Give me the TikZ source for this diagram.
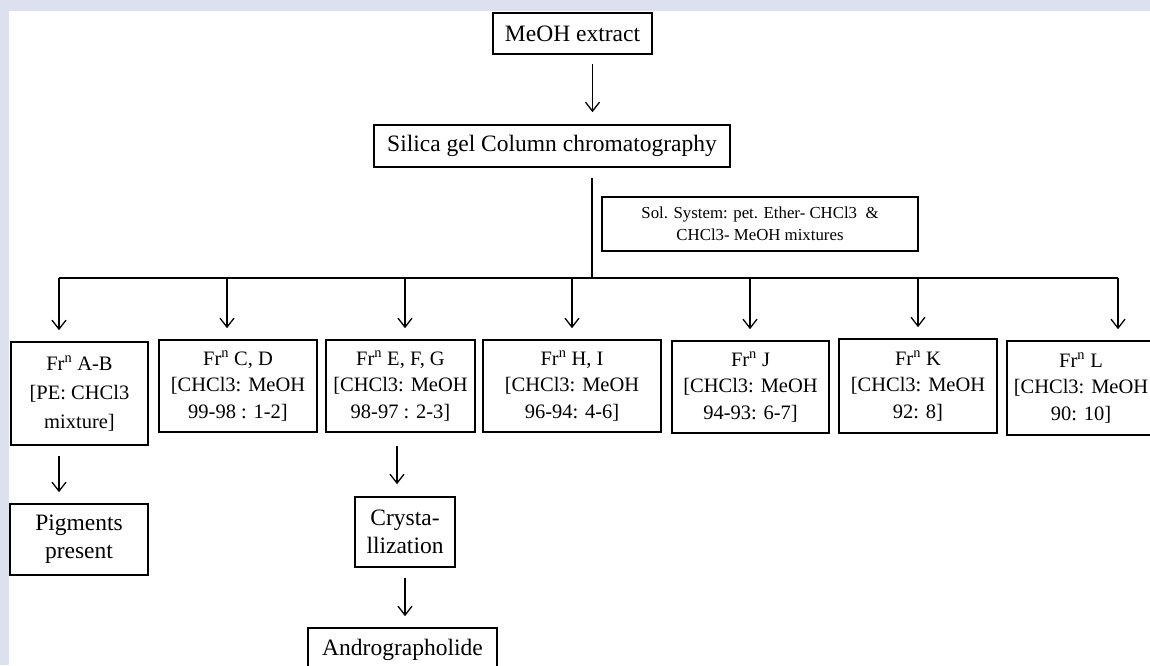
\documentclass[tikz,border=0pt]{standalone}
\usepackage{fontspec}
\setmainfont{Liberation Serif}
\usetikzlibrary{arrows.meta}
\definecolor{PageBack}{HTML}{DDE0EF}

\begin{document}
\begin{tikzpicture}[
          % Environment Config
          x=1pt, y=-1pt,
          Box/.style={% Style for the framed steps
            draw,
            line width=1.6pt,
            align=center,
            inner sep=0pt,
            font=\fontsize{23.5}{28}\selectfont
          },
          FrBox/.style={% Style for the fraction boxes
            Box,
            font=\fontsize{20.5}{26.5}\selectfont
          },
          MyArrow/.style={% Style for the flow arrows
            -{Straight Barb[length=9pt,width=14pt]},
            line width=1.3pt
          },
          Wire/.style={% Style for the plain lines
            line width=1.3pt
          }
        ]

        % Page background
        \useasboundingbox[fill=PageBack] (0,0) rectangle (1150,665);
        \fill[white] (9,11) rectangle (1150,665);

        % Main column
        \node[Box, minimum width=159pt, minimum height=41pt] (MeOH) at (572.5,33.5) {MeOH extract};
        \node[Box, minimum width=356pt, minimum height=42pt] (Silica) at (552,146) {Silica gel Column chromatography};
        \node[Box, minimum width=316pt, minimum height=54pt,
              font=\fontsize{16.8}{22}\selectfont] (Sol) at (760,224)
              {Sol. System: pet. Ether- CHCl3 \ \&\\CHCl3- MeOH mixtures};

        % Fractions
        \node[FrBox, minimum width=137pt, minimum height=103pt,
              font=\fontsize{20.5}{29}\selectfont] (AB) at (79.5,393.5)
              {Fr\textsuperscript{n} A-B\\{}[PE: CHCl3\\mixture]};
        \node[FrBox, minimum width=158pt, minimum height=92pt] (CD) at (238,386)
              {Fr\textsuperscript{n} C, D\\{}[CHCl3: MeOH\\99-98 : 1-2]};
        \node[FrBox, minimum width=149pt, minimum height=92pt] (EFG) at (400.5,386)
              {Fr\textsuperscript{n} E, F, G\\{}[CHCl3: MeOH\\98-97 : 2-3]};
        \node[FrBox, minimum width=178pt, minimum height=92pt] (HI) at (572,386)
              {Fr\textsuperscript{n} H, I\\{}[CHCl3: MeOH\\96-94: 4-6]};
        \node[FrBox, minimum width=157pt, minimum height=92pt] (J) at (750.5,387)
              {Fr\textsuperscript{n} J\\{}[CHCl3: MeOH\\94-93: 6-7]};
        \node[FrBox, minimum width=158pt, minimum height=94pt] (K) at (918,386)
              {Fr\textsuperscript{n} K\\{}[CHCl3: MeOH\\92: 8]};
        \node[FrBox, minimum width=148pt, minimum height=94pt] (L) at (1081,388)
              {Fr\textsuperscript{n} L\\{}[CHCl3: MeOH\\90: 10]};

        % Products
        \node[Box, minimum width=138pt, minimum height=71pt] (Pigments) at (79,539.5) {Pigments\\present};
        \node[Box, minimum width=100pt, minimum height=70pt] (Cryst) at (405,532) {Crysta-\\llization};
        \node[Box, minimum width=189pt, minimum height=44pt] (Andro) at (402.5,650) {Andrographolide};

        % Trunk and bus
        \coordinate (Trunk) at (592.5,100);
        \coordinate (Bus) at (592,278);
        \coordinate (B1) at (59,278);
        \coordinate (B2) at (227,278);
        \coordinate (B3) at (405,278);
        \coordinate (B4) at (572,278);
        \coordinate (B5) at (750,278);
        \coordinate (B6) at (918,278);
        \coordinate (B7) at (1118,278);
        \coordinate (E1) at (397,450);

        \draw[MyArrow, shorten <=9pt, shorten >=12pt]
        (MeOH.south -| Trunk)
            -- (Silica.north -| Trunk);

        \draw[Wire, shorten <=10pt]
        (Silica.south -| Bus)
            -- (Bus);
        \draw[Wire]
        (B1)
            -- (B7);

        % Arrows to the fractions
        \draw[MyArrow, shorten >=11pt] (B1) -- (AB.north -| B1);
        \draw[MyArrow, shorten >=11pt] (B2) -- (CD.north -| B2);
        \draw[MyArrow, shorten >=11pt] (B3) -- (EFG.north -| B3);
        \draw[MyArrow, shorten >=11pt] (B4) -- (HI.north -| B4);
        \draw[MyArrow, shorten >=11pt] (B5) -- (J.north -| B5);
        \draw[MyArrow, shorten >=11pt] (B6) -- (K.north -| B6);
        \draw[MyArrow, shorten >=11pt] (B7) -- (L.north -| B7);

        % Arrows to the products
        \draw[MyArrow, shorten <=10pt, shorten >=11pt]
        (AB.south -| B1)
            -- (Pigments.north -| B1);
        \draw[MyArrow, shorten <=13pt, shorten >=12pt]
        (EFG.south -| E1)
            -- (Cryst.north -| E1);
        \draw[MyArrow, shorten <=10pt, shorten >=11pt]
        (Cryst.south)
            -- (Andro.north -| Cryst.south);

        \end{tikzpicture}
\end{document}
